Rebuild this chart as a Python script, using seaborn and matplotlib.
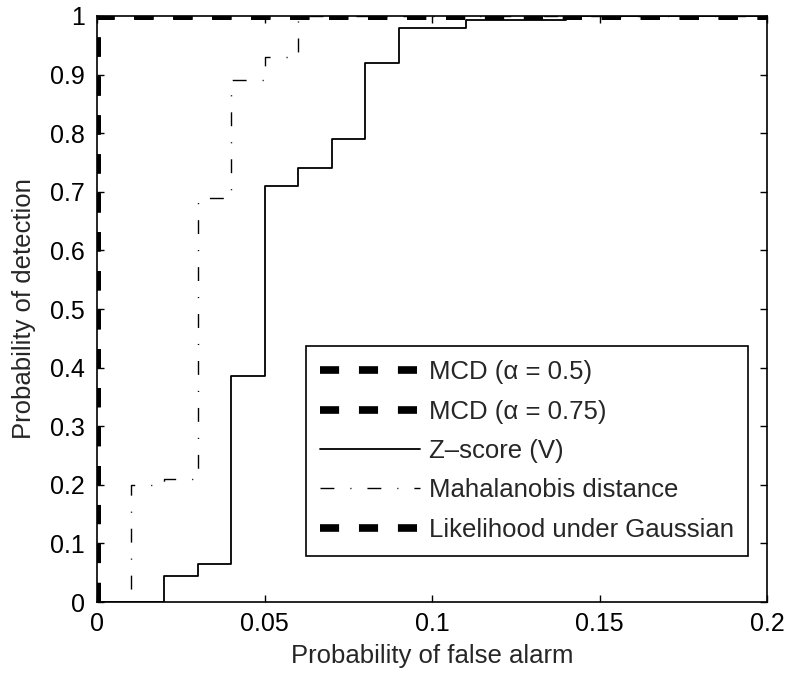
import matplotlib
matplotlib.use("Agg")
import matplotlib.pyplot as plt
import seaborn as sns
import pandas as pd

# ROC curves (step curves)
fa_zscore = [0.0, 0.02, 0.03, 0.04, 0.05, 0.06, 0.07, 0.08, 0.09, 0.11, 0.14, 0.2]
pd_zscore = [0.0, 0.045, 0.065, 0.385, 0.71, 0.74, 0.79, 0.92, 0.98, 0.994, 1.0, 1.0]

fa_mahal = [0.0, 0.01, 0.02, 0.03, 0.04, 0.05, 0.06, 0.2]
pd_mahal = [0.0, 0.20, 0.21, 0.69, 0.89, 0.93, 1.0, 1.0]

# perfect detectors: MCD (both alphas) and Gaussian likelihood
fa_perfect = [0.0, 0.0, 0.2]
pd_perfect = [0.0, 1.0, 1.0]

labels = ["MCD (\u03b1 = 0.5)", "MCD (\u03b1 = 0.75)", "Z\u2013score (V)",
          "Mahalanobis distance", "Likelihood under Gaussian"]

xticks = [0, 0.05, 0.1, 0.15, 0.2]
xticklabels = ["0", "0.05", "0.1", "0.15", "0.2"]
yticks = [i / 10 for i in range(11)]
yticklabels = ["0", "0.1", "0.2", "0.3", "0.4", "0.5", "0.6", "0.7", "0.8", "0.9", "1"]

sns.set_style("ticks")
plt.rcParams['font.family'] = ['Liberation Sans', 'DejaVu Sans']
plt.rcParams['xtick.direction'] = 'in'
plt.rcParams['ytick.direction'] = 'in'
plt.rcParams['xtick.top'] = True
plt.rcParams['ytick.right'] = True

fig = plt.figure(figsize=(7.88, 6.75), dpi=100)
ax = fig.add_axes([0.1231, 0.1081, 0.8503, 0.8682])

thick = dict(color='black', linewidth=5.5, linestyle=(0, (2.5, 2.6)),
             solid_capstyle='butt', dash_capstyle='butt')

perfect = pd.DataFrame({"fa": fa_perfect, "pd": pd_perfect})
zs = pd.DataFrame({"fa": fa_zscore, "pd": pd_zscore})
mh = pd.DataFrame({"fa": fa_mahal, "pd": pd_mahal})

sns.lineplot(data=perfect, x="fa", y="pd", ax=ax, estimator=None, sort=False,
             label=labels[0], **thick)
sns.lineplot(data=perfect, x="fa", y="pd", ax=ax, estimator=None, sort=False,
             label=labels[1], **thick)
sns.lineplot(data=zs, x="fa", y="pd", ax=ax, estimator=None, sort=False,
             drawstyle='steps-post', color='black', linewidth=1.3, label=labels[2])
sns.lineplot(data=mh, x="fa", y="pd", ax=ax, estimator=None, sort=False,
             drawstyle='steps-post', color='black', linewidth=1.0,
             linestyle=(0, (10, 11.5, 0.8, 11.5)), label=labels[3])
sns.lineplot(data=perfect, x="fa", y="pd", ax=ax, estimator=None, sort=False,
             label=labels[4], **thick)

ax.set_xlim(0, 0.2)
ax.set_ylim(0, 1)
ax.set_xticks(xticks)
ax.set_xticklabels(xticklabels)
ax.set_yticks(yticks)
ax.set_yticklabels(yticklabels)
ax.tick_params(labelsize=18, length=5, width=1, colors='black')
ax.tick_params(axis='y', pad=9)
ax.tick_params(axis='x', pad=7)
for s in ax.spines.values():
    s.set_color('black')
    s.set_linewidth(1.2)

ax.set_xlabel("Probability of false alarm", fontsize=18.5, labelpad=6)
ax.set_ylabel("Probability of detection", fontsize=18.5, labelpad=10)

leg = ax.legend(loc='lower right', bbox_to_anchor=(0.9716, 0.0785), borderaxespad=0,
                fontsize=18.5, handlelength=3.9, handletextpad=0.35, labelspacing=0.6,
                fancybox=False, framealpha=1, edgecolor='black', borderpad=0.55)
leg.get_frame().set_linewidth(1.2)

fig.savefig("out.png", dpi=100)
